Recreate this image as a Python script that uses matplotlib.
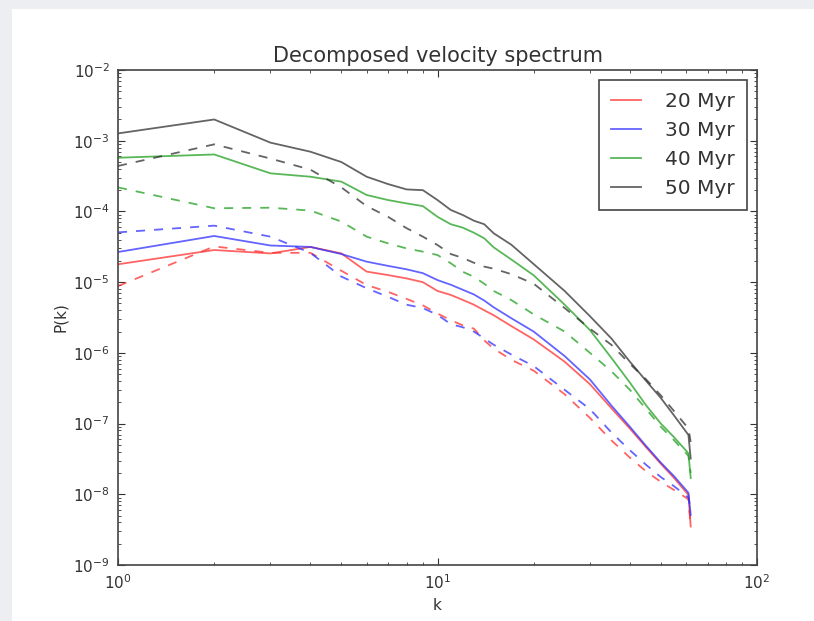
import matplotlib
matplotlib.use("Agg")
import matplotlib.pyplot as plt
from matplotlib.patches import Rectangle
from matplotlib.ticker import NullFormatter

# wavenumber bins
k = [1, 2, 3, 4, 5, 6, 7, 8, 9, 10, 11, 12, 13, 14, 15, 17, 20, 25, 30, 35, 40, 45, 50, 55, 61, 62]

# solid lines
p20 = [1.79e-5, 2.85e-5, 2.55e-5, 3.15e-5, 2.55e-5, 1.41e-5, 1.26e-5, 1.13e-5, 1.0e-5, 7.5e-6,
       6.6e-6, 5.6e-6, 4.8e-6, 4.0e-6, 3.4e-6, 2.4e-6, 1.55e-6, 7.5e-7, 3.6e-7, 1.65e-7,
       8.5e-8, 4.6e-8, 2.7e-8, 1.7e-8, 9.8e-9, 3.5e-9]
p30 = [2.67e-5, 4.5e-5, 3.3e-5, 3.15e-5, 2.5e-5, 1.95e-5, 1.7e-5, 1.52e-5, 1.34e-5, 1.07e-5,
       9.2e-6, 7.8e-6, 6.7e-6, 5.5e-6, 4.4e-6, 3.1e-6, 2.0e-6, 9.0e-7, 4.2e-7, 1.8e-7,
       9.0e-8, 4.8e-8, 2.8e-8, 1.8e-8, 1.05e-8, 5.1e-9]
p40 = [5.75e-4, 6.4e-4, 3.46e-4, 3.1e-4, 2.64e-4, 1.71e-4, 1.45e-4, 1.30e-4, 1.19e-4, 8.4e-5,
       6.6e-5, 5.9e-5, 5.0e-5, 4.17e-5, 3.1e-5, 2.1e-5, 1.25e-5, 4.8e-6, 2.1e-6, 8.5e-7,
       3.8e-7, 1.8e-7, 1.0e-7, 6.4e-8, 3.8e-8, 1.7e-8]
p50 = [1.27e-3, 2.0e-3, 9.4e-4, 7.0e-4, 5.0e-4, 3.1e-4, 2.44e-4, 2.05e-4, 2.0e-4, 1.45e-4,
       1.05e-4, 8.9e-5, 7.4e-5, 6.6e-5, 4.9e-5, 3.4e-5, 1.8e-5, 7.5e-6, 3.3e-6, 1.6e-6,
       7.5e-7, 4.0e-7, 2.3e-7, 1.3e-7, 6.9e-8, 3.2e-8]

# dashed lines
d20 = [8.8e-6, 3.2e-5, 2.6e-5, 2.6e-5, 1.45e-5, 9.1e-6, 7.3e-6, 5.8e-6, 4.7e-6, 3.6e-6,
       2.9e-6, 2.45e-6, 2.2e-6, 1.5e-6, 1.15e-6, 8.0e-7, 5.6e-7, 2.6e-7, 1.2e-7, 5.8e-8,
       3.3e-8, 2.1e-8, 1.5e-8, 1.15e-8, 8.5e-9, 3.5e-9]
d30 = [5.06e-5, 6.3e-5, 4.4e-5, 2.6e-5, 1.2e-5, 8.2e-6, 6.2e-6, 4.8e-6, 4.3e-6, 3.45e-6,
       2.55e-6, 2.3e-6, 2.0e-6, 1.6e-6, 1.3e-6, 9.5e-7, 6.5e-7, 3.0e-7, 1.6e-7, 7.5e-8,
       4.2e-8, 2.6e-8, 1.75e-8, 1.3e-8, 9.0e-9, 6.0e-9]
d40 = [2.19e-4, 1.11e-4, 1.13e-4, 1.03e-4, 7.2e-5, 4.4e-5, 3.54e-5, 3.0e-5, 2.7e-5, 2.42e-5,
       1.85e-5, 1.4e-5, 1.19e-5, 9.5e-6, 7.5e-6, 5.6e-6, 3.5e-6, 2.0e-6, 1.0e-6, 5.5e-7,
       3.0e-7, 1.6e-7, 9.0e-8, 5.8e-8, 3.5e-8, 2.0e-8]
d50 = [4.4e-4, 8.9e-4, 5.6e-4, 3.9e-4, 2.19e-4, 1.19e-4, 8.4e-5, 5.8e-5, 4.4e-5, 3.35e-5,
       2.5e-5, 2.2e-5, 1.88e-5, 1.66e-5, 1.55e-5, 1.3e-5, 9.5e-6, 4.3e-6, 2.2e-6, 1.3e-6,
       7.0e-7, 4.2e-7, 2.5e-7, 1.5e-7, 8.5e-8, 5.5e-8]

labels = ["20 Myr", "30 Myr", "40 Myr", "50 Myr"]
colors = ["#ff3030", "#3030ff", "#20a020", "#303030"]
solids = [p20, p30, p40, p50]
dashes = [d20, d30, d40, d50]

fig = plt.figure(figsize=(8.14, 6.21), dpi=100, facecolor="#eceef2")
# white page area inside the grey slide border
fig.add_artist(Rectangle((12 / 814, -0.01), 1, 1.01 - 9 / 621, transform=fig.transFigure,
                         facecolor="white", edgecolor="none", zorder=-1))
ax = fig.add_axes([0.145, 0.0902, 0.785, 0.797])

for lab, c, s, d in zip(labels, colors, solids, dashes):
    ax.loglog(k, s, color=c, lw=1.3, alpha=0.75, label=lab)
    ax.loglog(k, d, color=c, lw=1.3, alpha=0.75, ls=(0, (5, 5)))

ax.set_xlim(1, 100)
ax.set_ylim(1e-9, 1e-2)
ax.xaxis.set_minor_formatter(NullFormatter())
ax.yaxis.set_minor_formatter(NullFormatter())
ax.tick_params(which="both", direction="in", top=True, right=True,
               labelsize=11, colors="#333333")
ax.tick_params(which="major", length=5, pad=6)
ax.tick_params(which="minor", length=2.5)
for sp in ax.spines.values():
    sp.set_color("#444444")
    sp.set_linewidth(1.2)

ax.set_title("Decomposed velocity spectrum", fontsize=15, color="#333333", pad=6)
ax.set_xlabel("k", fontsize=11, color="#333333")
ax.set_ylabel("P(k)", fontsize=11, color="#333333")

leg = ax.legend(loc="upper right", fontsize=14.5, fancybox=False, framealpha=1,
                handlelength=1.5, handletextpad=1.2, borderpad=0.6,
                labelspacing=0.5, borderaxespad=0.5)
leg.get_frame().set_edgecolor("#444444")
leg.get_frame().set_linewidth(1.2)
for t in leg.get_texts():
    t.set_color("#333333")

fig.savefig("out.png", dpi=100, facecolor=fig.get_facecolor())
